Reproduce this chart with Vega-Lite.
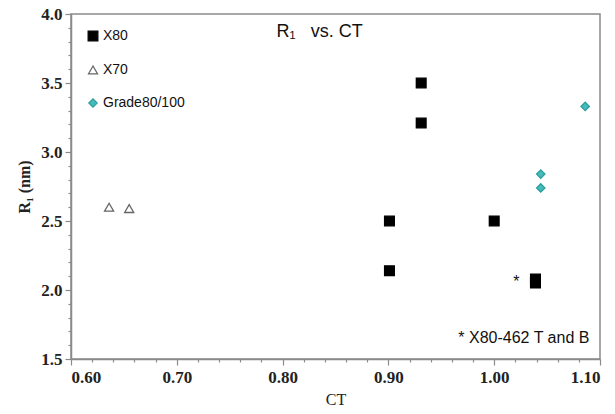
{
  "$schema": "https://vega.github.io/schema/vega-lite/v6.json",
  "width": 529,
  "height": 345,
  "autosize": "none",
  "padding": {"left": 71, "top": 14, "right": 15, "bottom": 55},
  "background": "white",
  "config": {
    "view": {"stroke": "#8a8a8a", "strokeWidth": 1.5},
    "axis": {
      "domainColor": "#8a8a8a",
      "domainWidth": 1.5,
      "ticks": true,
      "tickColor": "#8a8a8a",
      "tickWidth": 1.2,
      "grid": false,
      "labelFont": "Liberation Serif",
      "labelFontSize": 17,
      "labelFontWeight": "bold",
      "labelColor": "#222",
      "titleFont": "Liberation Serif",
      "titleFontSize": 16,
      "titleFontWeight": "bold",
      "titleColor": "#222"
    }
  },
  "datasets": {
    "points": [
      {"grade": "X80", "ct": 0.931, "r1": 3.50},
      {"grade": "X80", "ct": 0.931, "r1": 3.21},
      {"grade": "X80", "ct": 0.901, "r1": 2.50},
      {"grade": "X80", "ct": 0.901, "r1": 2.14},
      {"grade": "X80", "ct": 1.000, "r1": 2.50},
      {"grade": "X80", "ct": 1.039, "r1": 2.08},
      {"grade": "X80", "ct": 1.039, "r1": 2.05},
      {"grade": "X70", "ct": 0.636, "r1": 2.60},
      {"grade": "X70", "ct": 0.655, "r1": 2.59},
      {"grade": "Grade80/100", "ct": 1.086, "r1": 3.33},
      {"grade": "Grade80/100", "ct": 1.044, "r1": 2.84},
      {"grade": "Grade80/100", "ct": 1.044, "r1": 2.74}
    ],
    "notes": [
      {"label": "R₁\u00a0\u00a0\u00a0vs. CT", "ct": 0.835, "r1": 3.87, "kind": "title"},
      {"label": "*", "ct": 1.024, "r1": 2.06, "kind": "star"},
      {"label": "* X80-462 T and B", "ct": 1.090, "r1": 1.65, "kind": "note"}
    ]
  },
  "encoding": {
    "x": {
      "field": "ct",
      "type": "quantitative",
      "scale": {"domain": [0.6, 1.1], "nice": false, "zero": false},
      "axis": {
        "title": "CT",
        "titleFontWeight": "normal",
        "titlePadding": 6,
        "labelOverlap": false,
        "labelBound": false,
        "values": [0.6, 0.62, 0.64, 0.66, 0.68, 0.7, 0.72, 0.74, 0.76, 0.78, 0.8, 0.82, 0.84, 0.86, 0.88, 0.9, 0.92, 0.94, 0.96, 0.98, 1.0, 1.02, 1.04, 1.06, 1.08, 1.1],
        "labelExpr": "abs(round(datum.value*100) % 10) == 0 ? format(datum.value, '.2f') : ''",
        "tickSize": {"condition": {"test": "abs(round(datum.value*100) % 10) == 0", "value": 6}, "value": 3},
        "labelPadding": 4
      }
    },
    "y": {
      "field": "r1",
      "type": "quantitative",
      "scale": {"domain": [1.5, 4.0], "nice": false, "zero": false},
      "axis": {
        "title": "R₁ (nm)",
        "titlePadding": 8,
        "labelOverlap": false,
        "labelBound": false,
        "values": [1.5, 1.6, 1.7, 1.8, 1.9, 2.0, 2.1, 2.2, 2.3, 2.4, 2.5, 2.6, 2.7, 2.8, 2.9, 3.0, 3.1, 3.2, 3.3, 3.4, 3.5, 3.6, 3.7, 3.8, 3.9, 4.0],
        "labelExpr": "abs(round(datum.value*10) % 5) == 0 ? format(datum.value, '.1f') : ''",
        "tickSize": {"condition": {"test": "abs(round(datum.value*10) % 5) == 0", "value": 6}, "value": 3},
        "labelPadding": 3
      }
    }
  },
  "layer": [
    {
      "data": {"name": "points"},
      "mark": {"type": "point", "filled": false, "strokeWidth": 1.3, "opacity": 1},
      "encoding": {
        "shape": {
          "field": "grade",
          "type": "nominal",
          "scale": {"domain": ["X80", "X70", "Grade80/100"], "range": ["square", "triangle-up", "diamond"]},
          "legend": {
            "title": null,
            "orient": "top-left",
            "offset": 15,
            "rowPadding": 19,
            "labelFont": "Liberation Sans",
            "labelFontSize": 14,
            "labelColor": "#111",
            "symbolStrokeWidth": 1.2,
            "labelOffset": 3
          }
        },
        "fill": {
          "field": "grade",
          "type": "nominal",
          "scale": {"domain": ["X80", "X70", "Grade80/100"], "range": ["#000000", "#ffffff", "#45bcbc"]}
        },
        "stroke": {
          "field": "grade",
          "type": "nominal",
          "scale": {"domain": ["X80", "X70", "Grade80/100"], "range": ["#000000", "#666666", "#2e9d9d"]}
        },
        "size": {
          "field": "grade",
          "type": "nominal",
          "scale": {"domain": ["X80", "X70", "Grade80/100"], "range": [95, 70, 65]}
        }
      }
    },
    {
      "data": {"name": "notes"},
      "mark": {"type": "text", "font": "Liberation Sans", "fontSize": 18, "color": "#111"},
      "transform": [{"filter": "datum.kind == 'title'"}],
      "encoding": {"text": {"field": "label"}}
    },
    {
      "data": {"name": "notes"},
      "mark": {"type": "text", "font": "Liberation Sans", "fontSize": 16, "color": "#111", "align": "right"},
      "transform": [{"filter": "datum.kind != 'title'"}],
      "encoding": {"text": {"field": "label"}}
    }
  ]
}
